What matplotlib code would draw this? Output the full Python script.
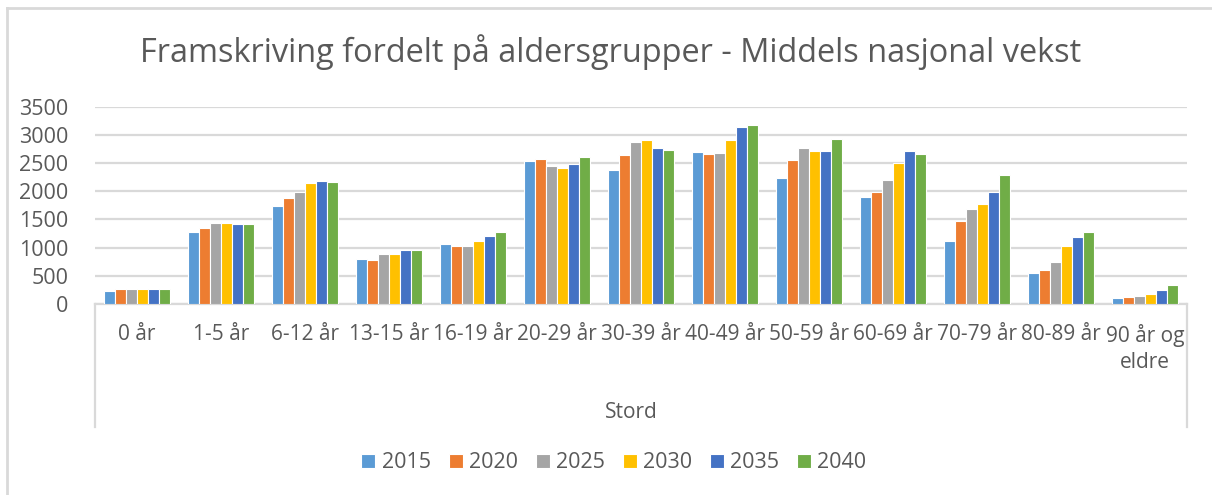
import matplotlib.pyplot as plt
import matplotlib.lines as mlines
import numpy as np

# Data (Stord, persons per age group)
age_groups = ['0 år', '1-5 år', '6-12 år', '13-15 år', '16-19 år', '20-29 år',
              '30-39 år', '40-49 år', '50-59 år', '60-69 år', '70-79 år',
              '80-89 år', '90 år og\neldre']
years = ['2015', '2020', '2025', '2030', '2035', '2040']
v2015 = [235, 1270, 1735, 790, 1065, 2530, 2375, 2690, 2240, 1905, 1110, 555, 100]
v2020 = [260, 1350, 1875, 780, 1035, 2580, 2650, 2660, 2550, 1985, 1475, 595, 130]
v2025 = [265, 1440, 1985, 885, 1030, 2440, 2875, 2675, 2765, 2195, 1685, 750, 150]
v2030 = [262, 1445, 2155, 880, 1110, 2410, 2910, 2905, 2710, 2500, 1770, 1030, 175]
v2035 = [265, 1425, 2190, 950, 1205, 2485, 2775, 3140, 2715, 2710, 1990, 1180, 240]
v2040 = [262, 1425, 2160, 965, 1270, 2605, 2735, 3170, 2935, 2665, 2280, 1270, 345]
series = [v2015, v2020, v2025, v2030, v2035, v2040]
colors = ['#5b9bd5', '#ed7d31', '#a5a5a5', '#ffc000', '#4472c4', '#70ad47']

plt.rcParams['font.family'] = ['Open Sans', 'DejaVu Sans']
text_color = '#595959'
grid_color = '#d9d9d9'

W, H = 1212, 495
fig = plt.figure(figsize=(W / 100, H / 100), dpi=100)

# plot area in pixel coordinates
left, right, top, bottom = 95, 1187, 106.7, 304
ax = fig.add_axes([left / W, 1 - bottom / H, (right - left) / W, (bottom - top) / H])

x = np.arange(len(age_groups))
n = len(series)
slot = 0.775 / n
for i, (vals, col, yr) in enumerate(zip(series, colors, years)):
    ax.bar(x - 0.775 / 2 + slot * (i + 0.5), vals, width=slot, color=col,
           edgecolor='white', linewidth=0.8, label=yr, zorder=3)

ax.set_xlim(-0.5, len(age_groups) - 0.5)
ax.set_ylim(0, 3500)
ax.set_yticks(range(0, 3501, 500))
ax.yaxis.grid(True, color=grid_color, linewidth=1.6, zorder=0)
ax.tick_params(axis='y', length=0, labelsize=15.5, labelcolor=text_color, pad=19)
ax.set_xticks([])
for s in ['top', 'right', 'left']:
    ax.spines[s].set_visible(False)
ax.spines['bottom'].set_color(grid_color)
ax.spines['bottom'].set_linewidth(1.6)

# category labels and box below the axis (Excel multi-level axis)
for xi, lab in zip(x, age_groups):
    ax.text(xi, -0.1, lab, transform=ax.get_xaxis_transform(), ha='center', va='top',
            fontsize=15, color=text_color, linespacing=1.3)
for px in (left, right):
    fig.add_artist(mlines.Line2D([px / W, px / W], [1 - bottom / H, 1 - 427 / H],
                                 color=grid_color, linewidth=1.6))
fig.text(631 / W, 1 - 412 / H, 'Stord', ha='center', va='center', fontsize=15, color=text_color)

fig.text(611 / W, 1 - 52 / H, 'Framskriving fordelt på aldersgrupper - Middels nasjonal vekst',
         ha='center', va='center', fontsize=23.4, color=text_color)

leg = fig.legend(loc='center', bbox_to_anchor=(614 / W, 1 - 463 / H), ncol=6, frameon=False,
                 fontsize=15.5, handlelength=0.65, handleheight=0.65, handletextpad=0.3,
                 columnspacing=0.82, labelcolor=text_color)

# chart border (only top and left visible in the reference)
fig.add_artist(mlines.Line2D([7 / W, 1], [1 - 8 / H, 1 - 8 / H], color=grid_color, linewidth=2))
fig.add_artist(mlines.Line2D([7 / W, 7 / W], [0, 1 - 8 / H], color=grid_color, linewidth=2))

plt.savefig('out.png', dpi=100)
